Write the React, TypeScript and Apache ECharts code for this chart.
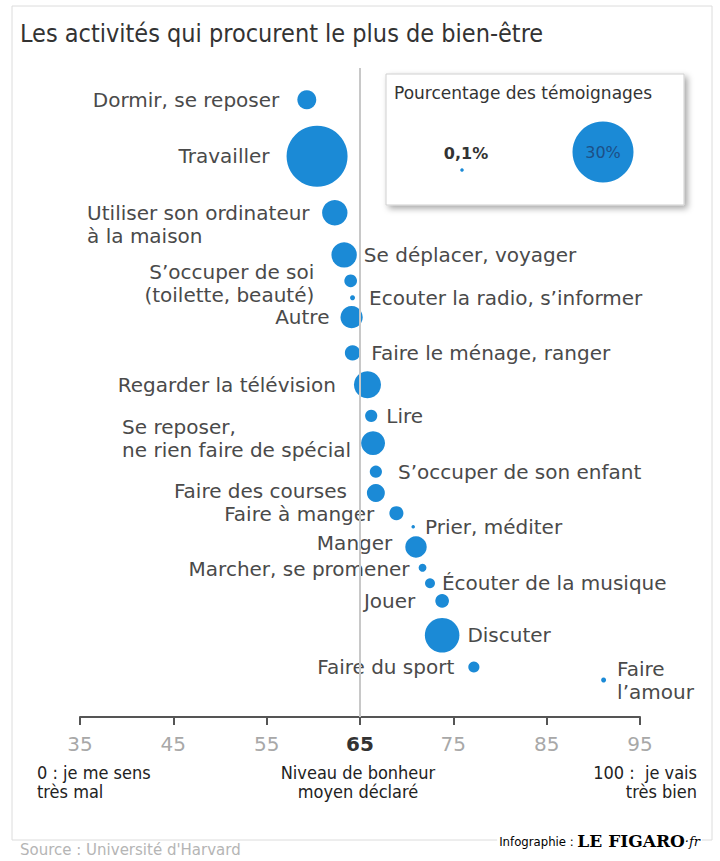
import React, { useEffect, useRef } from "react";
import * as echarts from "echarts";

// ---------- data ----------
const activities: string[] = [
  "Dormir, se reposer",
  "Travailler",
  "Utiliser son ordinateur\nà la maison",
  "Se déplacer, voyager",
  "S’occuper de soi\n(toilette, beauté)",
  "Ecouter la radio, s’informer",
  "Autre",
  "Faire le ménage, ranger",
  "Regarder la télévision",
  "Lire",
  "Se reposer,\nne rien faire de spécial",
  "S’occuper de son enfant",
  "Faire des courses",
  "Faire à manger",
  "Prier, méditer",
  "Manger",
  "Marcher, se promener",
  "Écouter de la musique",
  "Jouer",
  "Discuter",
  "Faire du sport",
  "Faire\nl’amour",
];

// average declared happiness (0-100)
const happiness: number[] = [
  59.3, 60.4, 62.3, 63.3, 64.0, 64.2, 64.1, 64.2, 65.8, 66.2, 66.4,
  66.7, 66.7, 68.9, 70.7, 71.0, 71.7, 72.5, 73.8, 73.8, 77.2, 91.1,
];

// share of reports (%)
const shares: number[] = [
  2.9, 30, 5.2, 5.2, 1.3, 0.2, 4.0, 1.9, 5.9, 1.2, 4.6,
  1.2, 2.6, 1.6, 0.1, 3.7, 0.5, 0.8, 1.5, 9.6, 1.0, 0.2,
];

// vertical order of the activities (0 = top, 100 = axis)
const rowPosition: number[] = [
  4.9, 13.6, 22.3, 28.8, 32.8, 35.4, 38.4, 43.9, 48.8, 53.6, 57.8,
  62.2, 65.5, 68.6, 70.7, 73.8, 77.0, 79.4, 82.1, 87.4, 92.3, 94.3,
];

const axisMin = 35;
const axisMax = 95;
const axisStep = 10;
const averageHappiness = 65;
const legendShares: number[] = [0.1, 30];
const legendLabels: string[] = ["0,1%", "30%"];

const titleText = "Les activités qui procurent le plus de bien-être";
const legendTitle = "Pourcentage des témoignages";
const lowText = "0 : je me sens\ntrès mal";
const midText = "Niveau de bonheur\nmoyen déclaré";
const highText = "100 :  je vais\ntrès bien";
const sourceText = "Source : Université d'Harvard";

// ---------- styling ----------
const FONT = "'DejaVu Sans', Verdana, sans-serif";
const COND = "'DejaVu Sans Condensed', 'DejaVu Sans', sans-serif";
const BLUE = "#1b8ad6";
const LABEL_COLOR = "#4a4a4a";
const MAX_DIAMETER = 61;
const sizeOf = (p: number) => MAX_DIAMETER * Math.sqrt(p / 30);

type LabelCfg = { side: "left" | "right"; dist: number; dy?: number; block?: number };
const labelLayout: LabelCfg[] = [
  { side: "left", dist: 18 },
  { side: "left", dist: 17 },
  { side: "left", dist: 13, dy: 12, block: 222 },
  { side: "right", dist: 7 },
  { side: "left", dist: 30, dy: 3 },
  { side: "right", dist: 14 },
  { side: "left", dist: 11 },
  { side: "right", dist: 11 },
  { side: "left", dist: 18 },
  { side: "right", dist: 9 },
  { side: "left", dist: 14, dy: -5, block: 225 },
  { side: "right", dist: 16 },
  { side: "left", dist: 20, dy: -2 },
  { side: "left", dist: 15, dy: 1 },
  { side: "right", dist: 10 },
  { side: "left", dist: 13, dy: -4 },
  { side: "left", dist: 9, dy: 1 },
  { side: "right", dist: 7 },
  { side: "left", dist: 20 },
  { side: "right", dist: 8 },
  { side: "left", dist: 14 },
  { side: "right", dist: 11 },
];

export default function App() {
  const ref = useRef<HTMLDivElement>(null);

  useEffect(() => {
    if (!ref.current) return;
    const chart = echarts.init(ref.current, undefined, { renderer: "svg" });

    const data = activities.map((name, i) => {
      const c = labelLayout[i];
      const multi = name.indexOf("\n") >= 0;
      const label: any = {
        position: c.side,
        distance: c.dist,
        offset: [0, c.dy || 0],
        lineHeight: multi ? 23 : 20,
      };
      if (c.block) {
        label.width = c.block;
        label.formatter = name
          .split("\n")
          .map((l) => `{l|${l}}`)
          .join("\n");
        label.rich = {
          l: { align: "left", fontSize: 20, fontFamily: FONT, color: LABEL_COLOR, lineHeight: 23 },
        };
      }
      return { name, value: [happiness[i], rowPosition[i], shares[i]], label };
    });

    const legendBig = sizeOf(legendShares[1]) / 2;
    const legendSmall = sizeOf(legendShares[0]) / 2;

    const noteStyle = { fontSize: 18, lineHeight: 19, fontFamily: COND, fill: "#222", verticalAlign: "middle" };

    chart.setOption({
      animation: false,
      backgroundColor: "#ffffff",
      grid: { left: 80, right: 80, top: 68, bottom: 144, containLabel: false },
      xAxis: {
        type: "value",
        min: axisMin,
        max: axisMax,
        interval: axisStep,
        splitLine: { show: false },
        axisLine: { show: true, onZero: false, lineStyle: { color: "#555", width: 2 } },
        axisTick: { show: true, length: 8, lineStyle: { color: "#555", width: 2 } },
        axisLabel: {
          margin: 17,
          formatter: (v: number) => (v === averageHappiness ? `{b|${v}}` : `{a|${v}}`),
          rich: {
            a: { fontSize: 20, color: "#a8a8a8", fontFamily: FONT },
            b: { fontSize: 20, color: "#333", fontWeight: "bold", fontFamily: FONT },
          },
        },
      },
      yAxis: { type: "value", min: 0, max: 100, inverse: true, show: false },
      series: [
        {
          type: "scatter",
          z: 1,
          data: [],
          silent: true,
          markLine: {
            silent: true,
            symbol: "none",
            label: { show: false },
            lineStyle: { color: "#c8c8c8", width: 2, type: "solid" },
            data: [{ xAxis: averageHappiness }],
          },
        },
        {
          type: "scatter",
          z: 3,
          data,
          symbolSize: (v: number[]) => sizeOf(v[2]),
          itemStyle: { color: BLUE, opacity: 1 },
          emphasis: { disabled: true },
          label: {
            show: true,
            formatter: "{b}",
            fontSize: 20,
            fontFamily: FONT,
            color: LABEL_COLOR,
            lineHeight: 20,
          },
        },
      ],
      graphic: [
        {
          type: "rect",
          z: -10,
          shape: { x: 12, y: 6, width: 700, height: 834 },
          style: { fill: "none", stroke: "#dcdcdc", lineWidth: 1 },
          silent: true,
        },
        {
          type: "text",
          x: 20,
          y: 33,
          style: { text: titleText, fontSize: 25, fontFamily: COND, fill: "#333", verticalAlign: "middle" },
        },
        // legend box
        {
          type: "rect",
          shape: { x: 386, y: 74, width: 298, height: 131 },
          style: {
            fill: "#fff",
            stroke: "#cfcfcf",
            lineWidth: 1,
            shadowBlur: 6,
            shadowOffsetX: 3,
            shadowOffsetY: 3,
            shadowColor: "rgba(0,0,0,0.35)",
          },
          z: 10,
        },
        {
          type: "text",
          x: 394,
          y: 93,
          z: 11,
          style: { text: legendTitle, fontSize: 17, fontFamily: FONT, fill: "#333", verticalAlign: "middle" },
        },
        {
          type: "text",
          x: 466,
          y: 153,
          z: 11,
          style: {
            text: legendLabels[0],
            fontSize: 16,
            fontWeight: "bold",
            fontFamily: FONT,
            fill: "#333",
            align: "center",
            verticalAlign: "middle",
          },
        },
        {
          type: "circle",
          z: 11,
          shape: { cx: 462, cy: 170, r: legendSmall },
          style: { fill: BLUE },
        },
        {
          type: "circle",
          z: 11,
          shape: { cx: 603, cy: 152, r: legendBig },
          style: { fill: BLUE },
        },
        {
          type: "text",
          x: 603,
          y: 152,
          z: 12,
          style: {
            text: legendLabels[1],
            fontSize: 16,
            fontFamily: FONT,
            fill: "#1d4f86",
            align: "center",
            verticalAlign: "middle",
          },
        },
        // bottom notes
        { type: "text", x: 37, y: 782, style: { ...noteStyle, text: lowText } },
        { type: "text", x: 358, y: 782, style: { ...noteStyle, text: midText, align: "center" } },
        { type: "text", x: 697, y: 782, style: { ...noteStyle, text: highText, align: "right" } },
        {
          type: "text",
          x: 702,
          y: 841,
          z: 5,
          style: {
            text: "{a|Infographie : }{b|LE FIGARO}{c|·fr}",
            align: "right",
            verticalAlign: "middle",
            backgroundColor: "#fff",
            padding: [2, 2],
            rich: {
              a: { fontSize: 13, fontFamily: COND, color: "#444" },
              b: { fontSize: 17, fontFamily: "'DejaVu Serif', serif", fontWeight: "bold", color: "#222" },
              c: { fontSize: 13, fontFamily: "'DejaVu Serif', serif", fontStyle: "italic", color: "#222" },
            },
          },
        },
        {
          type: "text",
          x: 20,
          y: 850,
          style: { text: sourceText, fontSize: 15, fontFamily: FONT, fill: "#b5b5b5", verticalAlign: "middle" },
        },
      ],
    });

    return () => chart.dispose();
  }, []);

  return (
    <div
      ref={ref}
      style={{ position: "fixed", left: 0, top: 0, width: 720, height: 861, background: "#fff" }}
    />
  );
}
